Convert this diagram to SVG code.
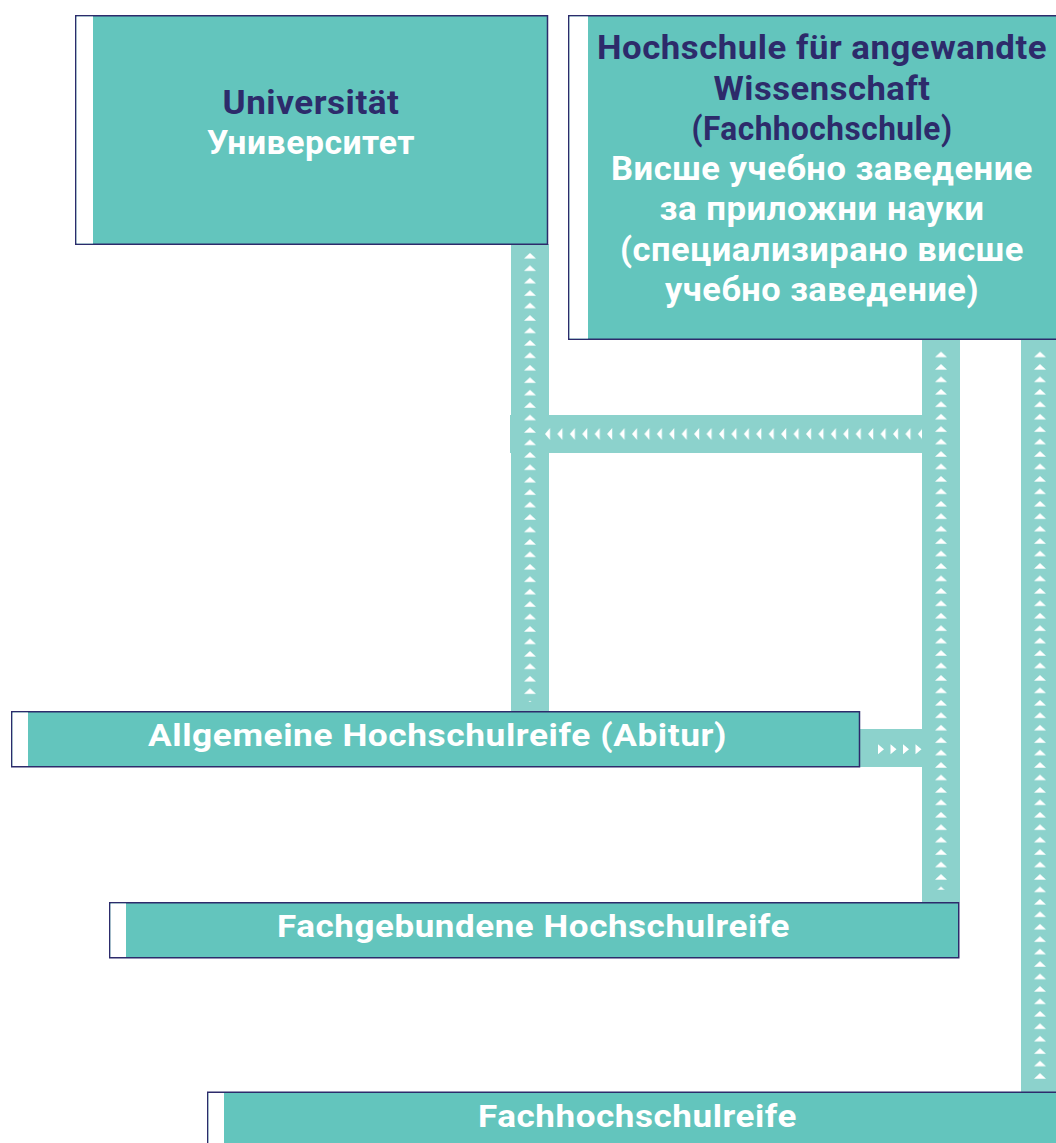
<svg xmlns="http://www.w3.org/2000/svg" width="1056" height="1143" viewBox="0 0 1056 1143">
<defs>
<style>
.box{fill:#63c5bd;stroke:#2d2b6b;stroke-width:1.5}
.gap{fill:#ffffff}
.strip{fill:#8cd2cc}
.t{font-family:Roboto,"Liberation Sans",sans-serif;font-weight:700;text-anchor:middle;letter-spacing:0.5px}
.n{fill:#2d2b6b}
.w{fill:#ffffff}
.big{font-size:33px}
.sm{font-size:31px}
</style>
<pattern id="pu" patternUnits="userSpaceOnUse" width="38" height="12.44"><path d="M19,0 L25,5.6 L13,5.6Z" fill="#ffffff"/></pattern>
<pattern id="pl" patternUnits="userSpaceOnUse" width="12.43" height="38"><path d="M0,19 L5,13 L5,25Z" fill="#ffffff"/></pattern>
</defs>

<g id="connectors">
<rect class="strip" x="510" y="415" width="412" height="38"/>
<rect class="strip" x="511" y="244" width="38" height="467"/>
<rect class="strip" x="922" y="340" width="38" height="562"/>
<rect class="strip" x="1021" y="340" width="38" height="752"/>
<rect class="strip" x="860" y="729" width="62" height="38"/>
<g transform="translate(511,253)"><rect x="0" y="-3" width="38" height="452" fill="url(#pu)"/></g>
<g transform="translate(922,351.7)"><rect x="0" y="-4" width="38" height="542" fill="url(#pu)"/></g>
<g transform="translate(1021,351.7)"><rect x="0" y="-4" width="38" height="732" fill="url(#pu)"/></g>
<g transform="translate(545,415)"><rect x="0" y="0" width="377" height="38" fill="url(#pl)"/></g>
<path fill="#ffffff" d="M878,744.3 L884,749.3 L878,754.3Z M890.5,744.3 L896.5,749.3 L890.5,754.3Z M903,744.3 L909,749.3 L903,754.3Z M915.5,744.3 L921.5,749.3 L915.5,754.3Z"/>
</g>

<g id="universitaet">
<rect class="box" x="75.75" y="15.75" width="471.75" height="228.5"/>
<rect class="gap" x="76.5" y="16.5" width="16.5" height="227"/>
<text class="t n big" x="311" y="114" textLength="177" lengthAdjust="spacingAndGlyphs">Universität</text>
<text class="t w big" x="311" y="154" textLength="208" lengthAdjust="spacingAndGlyphs">Университет</text>
</g>

<g id="hochschule">
<rect class="box" x="568.75" y="15.75" width="520" height="323.5"/>
<rect class="gap" x="569.5" y="16.5" width="18.5" height="322"/>
<text class="t n big" x="822" y="59" textLength="450" lengthAdjust="spacingAndGlyphs">Hochschule für angewandte</text>
<text class="t n big" x="822" y="99.5" textLength="217" lengthAdjust="spacingAndGlyphs">Wissenschaft</text>
<text class="t n big" x="822" y="140" textLength="261" lengthAdjust="spacingAndGlyphs">(Fachhochschule)</text>
<text class="t w big" x="822" y="180" textLength="422" lengthAdjust="spacingAndGlyphs">Висше учебно заведение</text>
<text class="t w big" x="822" y="220" textLength="325" lengthAdjust="spacingAndGlyphs">за приложни науки</text>
<text class="t w big" x="822" y="261" textLength="404" lengthAdjust="spacingAndGlyphs">(специализирано висше</text>
<text class="t w big" x="822" y="301" textLength="314" lengthAdjust="spacingAndGlyphs">учебно заведение)</text>
</g>

<g id="abitur">
<rect class="box" x="11.75" y="711.75" width="847.75" height="55"/>
<rect class="gap" x="12.5" y="712.5" width="15.5" height="53.5"/>
<text class="t w sm" x="437.5" y="746" textLength="579" lengthAdjust="spacingAndGlyphs">Allgemeine Hochschulreife (Abitur)</text>
</g>

<g id="fachgebundene">
<rect class="box" x="109.75" y="902.75" width="849" height="55"/>
<rect class="gap" x="110.5" y="903.5" width="15.5" height="53.5"/>
<text class="t w sm" x="533.5" y="937" textLength="513" lengthAdjust="spacingAndGlyphs">Fachgebundene Hochschulreife</text>
</g>

<g id="fachhochschulreife">
<rect class="box" x="207.75" y="1092.25" width="880" height="60"/>
<rect class="gap" x="208.5" y="1093" width="15.5" height="60"/>
<text class="t w sm" x="637.5" y="1127" textLength="319" lengthAdjust="spacingAndGlyphs">Fachhochschulreife</text>
</g>
</svg>
